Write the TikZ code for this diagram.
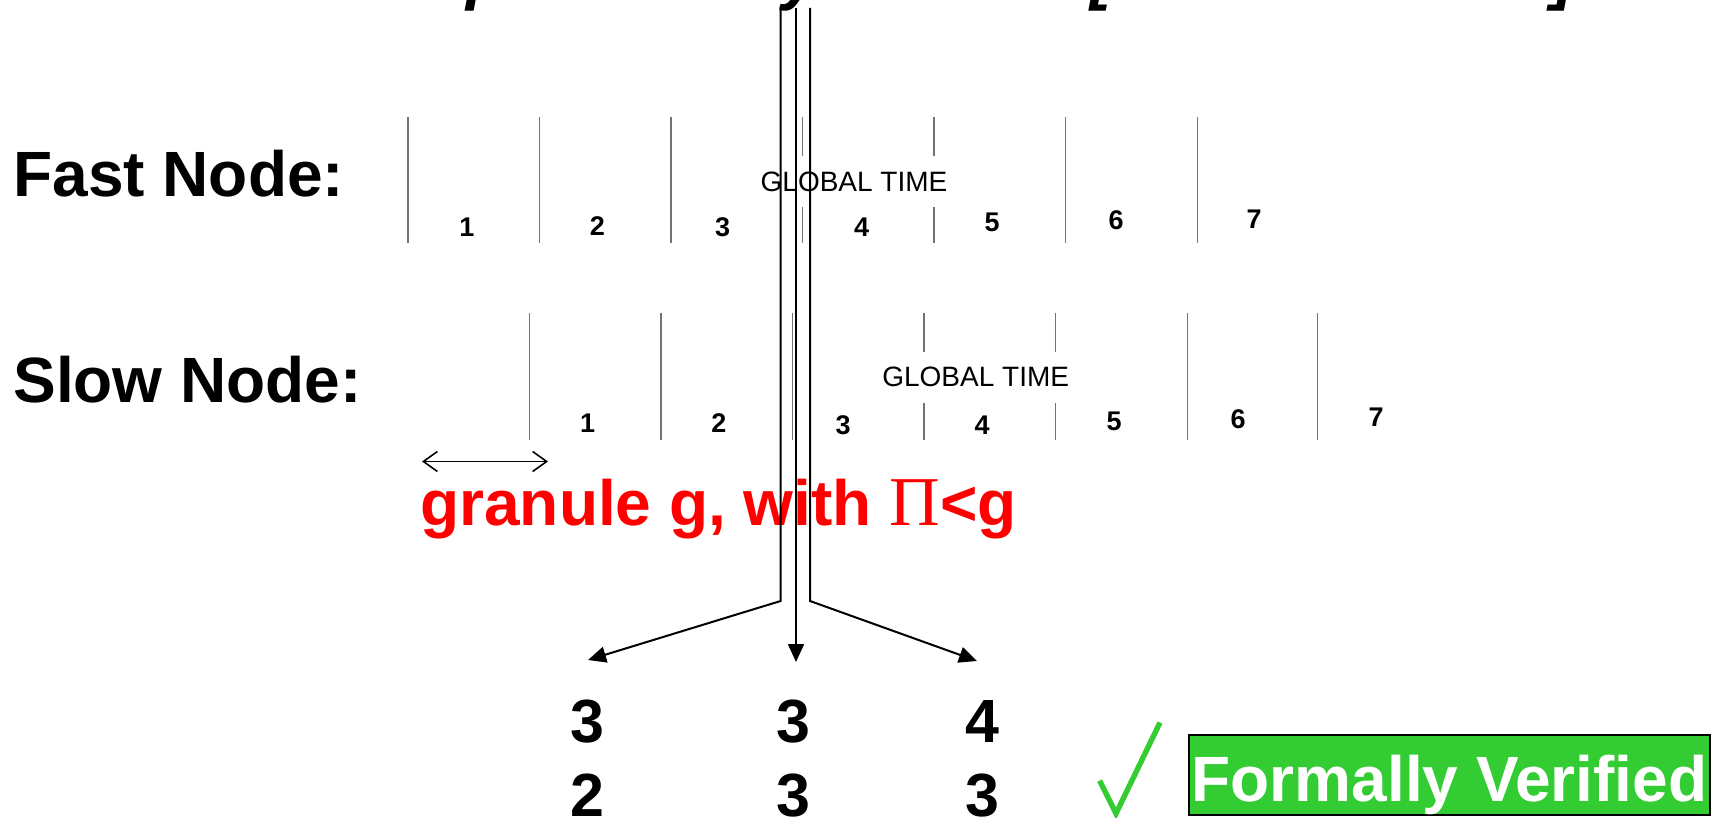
\documentclass[tikz,border=0pt]{standalone}
\usepackage{fontspec}
\setmainfont{Liberation Sans}
\newfontfamily\pisf{Liberation Serif}
\usetikzlibrary{arrows.meta}
\definecolor{vgreen}{RGB}{51,204,51}
\begin{document}
\begin{tikzpicture}[x=0.5pt,y=-0.5pt,
  rowlabel/.style={anchor=base west,inner sep=0,font=\fontsize{32}{38}\bfseries\selectfont},
  tickline/.style={draw=black!55,line width=0.6pt},
  num/.style={anchor=base,inner sep=0,font=\fontsize{13.5}{15}\bfseries\selectfont},
  gtime/.style={fill=white,inner xsep=2pt,inner ysep=0pt,minimum height=25.5pt,font=\fontsize{14}{16}\selectfont},
  big/.style={anchor=base,inner sep=0,font=\fontsize{30.5}{36}\bfseries\selectfont},
  arr/.style={line width=1pt,-{Triangle[length=9pt,width=8pt]}},
  barb/.style={line width=0.8pt,{Straight Barb[length=7pt,width=10pt]}-{Straight Barb[length=7pt,width=10pt]}},
  titlefrag/.style={anchor=base west,inner sep=0,font=\fontsize{33}{40}\bfseries\itshape\selectfont}
]
\useasboundingbox (0,0) rectangle (1719,818);

% cut-off title fragments
\node[titlefrag] (t1) at (466,-2) {p};
\node[titlefrag] (t2) at (782,-2) {y};
\node[titlefrag] (t3) at (1090,-2) {[};
\node[titlefrag] (t4) at (1552,-2) {]};

% row labels
\node[rowlabel] (fast) at (13,197) {Fast Node:};
\node[rowlabel] (slow) at (13,402) {Slow Node:};

% ticks
\foreach \x in {408,539.4,670.9,802.5,934,1065.6,1197.2}
  \draw[tickline] (\x,117) -- (\x,243);
\foreach \x in {529.5,661,792.6,924,1055.7,1187.3,1317.8}
  \draw[tickline] (\x,313.5) -- (\x,439.6);

% tick numbers
\foreach \x/\y [count=\i] in {467/237,597.5/236,722.5/237,861.7/237,992/232,1116/230,1254/229}
  \node[num] (f\i) at (\x,\y) {\i};
\foreach \x/\y [count=\i] in {587.6/432,719/432,843/434,982/434,1114/430,1238/428.6,1376/426.5}
  \node[num] (s\i) at (\x,\y) {\i};

% global time labels
\node[gtime] (g1) at (854,182) {GLOBAL TIME};
\node[gtime] (g2) at (975.7,377) {GLOBAL TIME};

% granule
\coordinate (ga) at (422,461.5);
\coordinate (gb) at (548,461.5);
\draw[barb] (ga) -- (gb);
\node[anchor=base west,inner sep=0,text=red,font=\fontsize{32}{38}\bfseries\selectfont] (gran) at (420,525) {granule g, with {\pisf\mdseries\fontsize{35}{38}\selectfont Π}<g};

% bottom numbers
\node[big] (a1) at (587.6,742) {3};
\node[big] (a2) at (587.6,816.7) {2};
\node[big] (b1) at (793.7,742) {3};
\node[big] (b2) at (793.7,816.7) {3};
\node[big] (c1) at (982,742) {4};
\node[big] (c2) at (982,816.7) {3};

% arrows
\coordinate (ls) at (780.6,6);
\coordinate (lb) at (780.6,601);
\coordinate (lt) at (588,660);
\coordinate (ms) at (796,8);
\coordinate (mt) at (796,662);
\coordinate (rs) at (810,8);
\coordinate (rb) at (810,601);
\coordinate (rt) at (977,661);
\draw[arr] (ls) -- (lb) -- (lt);
\draw[arr] (ms) -- (mt);
\draw[arr] (rs) -- (rb) -- (rt);

% check mark
\coordinate (k1) at (1099.6,780.6);
\coordinate (k2) at (1116,813.5);
\coordinate (k3) at (1160,722.5);
\draw[vgreen,line width=2.7pt] (k1) -- (k2) -- (k3);

% formally verified
\node[draw=black,line width=1pt,fill=vgreen,text=white,inner sep=0,
  minimum width=260.5pt,minimum height=40pt,text height=27pt,text depth=0pt,
  font=\fontsize{32}{38}\bfseries\selectfont] (fv) at (1449.5,774.5) {Formally Verified};
\end{tikzpicture}
\end{document}
